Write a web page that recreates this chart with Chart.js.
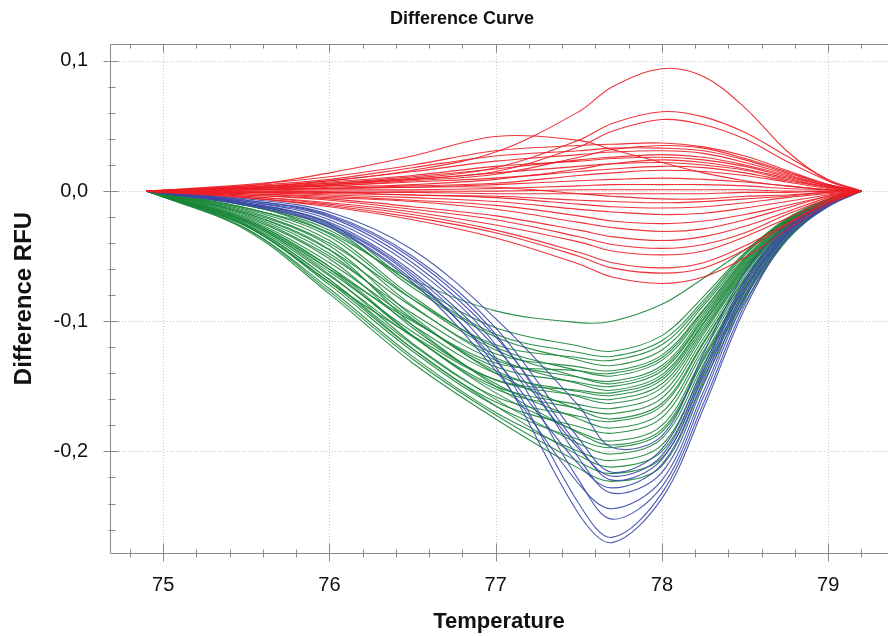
<!DOCTYPE html>
<html>
<head>
<meta charset="utf-8">
<script src="https://cdn.jsdelivr.net/npm/chart.js@4/dist/chart.umd.min.js"></script>
<style>
  html, body { margin: 0; padding: 0; background: #fff; }
  #wrap { width: 888px; height: 636px; position: relative; }
</style>
</head>
<body>
<div id="wrap"><canvas id="chart"></canvas></div>
<script>
// sample temperatures shared by every curve
const temps = [74.9, 75.5, 76, 76.5, 77, 77.5, 77.7, 78, 78.25, 78.5, 78.75, 79, 79.2];

const xTicks = [75, 76, 77, 78, 79];
const yTicks = [-0.2, -0.1, 0, 0.1];

// red curves
const redCurves = [
    [0, 0.003, 0.008, 0.016, 0.030, 0.061, 0.080, 0.094, 0.088, 0.064, 0.031, 0.008, 0],
    [0, 0.004, 0.014, 0.027, 0.042, 0.039, 0.032, 0.022, 0.014, 0.008, 0.004, 0.001, 0],
    [0, 0.002, 0.006, 0.010, 0.018, 0.039, 0.052, 0.061, 0.057, 0.045, 0.027, 0.009, 0],
    [0, 0.002, 0.005, 0.009, 0.015, 0.034, 0.046, 0.055, 0.051, 0.040, 0.023, 0.008, 0],
    [0, 0.005, 0.011, 0.020, 0.031, 0.035, 0.036, 0.037, 0.034, 0.027, 0.016, 0.005, 0],
    [0, 0.004, 0.009, 0.018, 0.027, 0.031, 0.033, 0.033, 0.031, 0.024, 0.014, 0.005, 0],
    [0, 0.003, 0.008, 0.015, 0.023, 0.028, 0.030, 0.031, 0.029, 0.022, 0.013, 0.004, 0],
    [0, 0.003, 0.007, 0.012, 0.019, 0.023, 0.025, 0.026, 0.024, 0.019, 0.011, 0.004, 0],
    [0, 0.003, 0.006, 0.011, 0.017, 0.024, 0.026, 0.028, 0.026, 0.020, 0.012, 0.004, 0],
    [0, 0.002, 0.005, 0.009, 0.014, 0.019, 0.021, 0.022, 0.020, 0.016, 0.009, 0.003, 0],
    [0, 0.002, 0.004, 0.007, 0.010, 0.015, 0.017, 0.019, 0.018, 0.014, 0.008, 0.003, 0],
    [0, 0.001, 0.003, 0.005, 0.009, 0.017, 0.021, 0.024, 0.022, 0.017, 0.010, 0.003, 0],
    [0, 0.001, 0.002, 0.003, 0.005, 0.008, 0.009, 0.010, 0.009, 0.007, 0.004, 0.001, 0],
    [0, 0.000, 0.001, 0.001, 0.002, 0.004, 0.005, 0.005, 0.005, 0.004, 0.002, 0.001, 0],
    [0, -0.001, 0.000, 0.000, 0.000, 0.001, 0.001, 0.001, 0.001, 0.001, 0.000, 0.000, 0],
    [0, 0.000, -0.001, -0.001, -0.002, -0.002, -0.002, -0.002, -0.002, -0.001, -0.001, 0.000, 0],
    [0, 0.001, 0.002, 0.003, 0.003, -0.002, -0.004, -0.006, -0.006, -0.004, -0.003, -0.001, 0],
    [0, -0.001, -0.002, -0.003, -0.005, -0.010, -0.012, -0.013, -0.012, -0.009, -0.005, -0.002, 0],
    [0, -0.001, -0.003, -0.005, -0.008, -0.014, -0.016, -0.018, -0.017, -0.013, -0.008, -0.003, 0],
    [0, -0.002, -0.004, -0.007, -0.011, -0.019, -0.023, -0.025, -0.023, -0.018, -0.011, -0.004, 0],
    [0, -0.002, -0.005, -0.008, -0.014, -0.024, -0.028, -0.031, -0.029, -0.022, -0.013, -0.004, 0],
    [0, -0.003, -0.006, -0.012, -0.019, -0.030, -0.035, -0.038, -0.035, -0.027, -0.016, -0.005, 0],
    [0, -0.003, -0.007, -0.014, -0.022, -0.035, -0.041, -0.044, -0.041, -0.032, -0.018, -0.006, 0],
    [0, -0.004, -0.009, -0.016, -0.026, -0.039, -0.046, -0.049, -0.046, -0.035, -0.021, -0.007, 0],
    [0, -0.004, -0.010, -0.018, -0.030, -0.047, -0.055, -0.059, -0.055, -0.042, -0.025, -0.008, 0],
    [0, -0.005, -0.011, -0.020, -0.032, -0.050, -0.059, -0.063, -0.059, -0.045, -0.026, -0.009, 0],
    [0, -0.005, -0.012, -0.022, -0.036, -0.056, -0.066, -0.071, -0.066, -0.051, -0.030, -0.010, 0],
    [0, 0.002, 0.004, 0.008, 0.013, 0.026, 0.032, 0.035, 0.033, 0.025, 0.015, 0.005, 0],
    [0, 0.001, 0.002, 0.004, 0.006, 0.012, 0.014, 0.016, 0.015, 0.012, 0.007, 0.002, 0],
    [0, -0.001, -0.001, -0.003, -0.004, -0.007, -0.008, -0.009, -0.008, -0.006, -0.004, -0.001, 0]
];

// blue curves
const blueCurves = [
    [0, -0.006, -0.016, -0.045, -0.098, -0.165, -0.197, -0.188, -0.125, -0.062, -0.026, -0.008, 0],
    [0, -0.007, -0.018, -0.050, -0.105, -0.190, -0.216, -0.198, -0.135, -0.068, -0.028, -0.009, 0],
    [0, -0.009, -0.024, -0.062, -0.120, -0.198, -0.219, -0.203, -0.138, -0.070, -0.029, -0.009, 0],
    [0, -0.008, -0.020, -0.055, -0.112, -0.196, -0.222, -0.206, -0.141, -0.072, -0.030, -0.009, 0],
    [0, -0.010, -0.027, -0.068, -0.130, -0.210, -0.228, -0.210, -0.145, -0.075, -0.031, -0.010, 0],
    [0, -0.007, -0.019, -0.052, -0.110, -0.205, -0.232, -0.216, -0.149, -0.077, -0.032, -0.010, 0],
    [0, -0.011, -0.028, -0.070, -0.138, -0.225, -0.244, -0.222, -0.154, -0.080, -0.033, -0.010, 0],
    [0, -0.008, -0.022, -0.058, -0.118, -0.222, -0.252, -0.227, -0.158, -0.083, -0.034, -0.011, 0],
    [0, -0.009, -0.025, -0.064, -0.128, -0.240, -0.266, -0.232, -0.163, -0.087, -0.036, -0.011, 0],
    [0, -0.010, -0.026, -0.066, -0.135, -0.248, -0.270, -0.236, -0.167, -0.090, -0.037, -0.012, 0]
];

// green curves
const greenCurves = [
    [0, -0.010, -0.032, -0.068, -0.092, -0.101, -0.100, -0.087, -0.067, -0.045, -0.024, -0.008, 0],
    [0, -0.011, -0.030, -0.071, -0.105, -0.119, -0.123, -0.111, -0.081, -0.047, -0.021, -0.006, 0],
    [0, -0.010, -0.025, -0.072, -0.110, -0.124, -0.127, -0.115, -0.084, -0.048, -0.022, -0.006, 0],
    [0, -0.015, -0.040, -0.083, -0.118, -0.128, -0.130, -0.118, -0.086, -0.049, -0.022, -0.007, 0],
    [0, -0.011, -0.028, -0.074, -0.112, -0.130, -0.134, -0.122, -0.088, -0.051, -0.023, -0.007, 0],
    [0, -0.017, -0.045, -0.089, -0.125, -0.135, -0.138, -0.126, -0.091, -0.052, -0.023, -0.007, 0],
    [0, -0.013, -0.033, -0.081, -0.120, -0.138, -0.142, -0.130, -0.094, -0.054, -0.024, -0.007, 0],
    [0, -0.019, -0.050, -0.094, -0.130, -0.143, -0.146, -0.134, -0.096, -0.055, -0.025, -0.007, 0],
    [0, -0.021, -0.055, -0.099, -0.135, -0.147, -0.150, -0.138, -0.099, -0.057, -0.026, -0.008, 0],
    [0, -0.014, -0.038, -0.088, -0.128, -0.148, -0.153, -0.141, -0.101, -0.058, -0.026, -0.008, 0],
    [0, -0.022, -0.058, -0.103, -0.140, -0.154, -0.157, -0.145, -0.104, -0.060, -0.027, -0.008, 0],
    [0, -0.024, -0.062, -0.108, -0.145, -0.157, -0.160, -0.148, -0.106, -0.061, -0.027, -0.008, 0],
    [0, -0.018, -0.048, -0.098, -0.138, -0.158, -0.163, -0.151, -0.108, -0.062, -0.028, -0.008, 0],
    [0, -0.025, -0.065, -0.112, -0.150, -0.164, -0.167, -0.155, -0.110, -0.063, -0.028, -0.008, 0],
    [0, -0.023, -0.060, -0.111, -0.152, -0.167, -0.171, -0.159, -0.113, -0.065, -0.029, -0.009, 0],
    [0, -0.026, -0.068, -0.118, -0.158, -0.173, -0.177, -0.165, -0.117, -0.067, -0.030, -0.009, 0],
    [0, -0.020, -0.052, -0.105, -0.148, -0.175, -0.182, -0.170, -0.120, -0.069, -0.031, -0.009, 0],
    [0, -0.027, -0.070, -0.121, -0.162, -0.181, -0.186, -0.174, -0.123, -0.071, -0.032, -0.009, 0],
    [0, -0.022, -0.058, -0.111, -0.155, -0.185, -0.192, -0.180, -0.127, -0.073, -0.033, -0.010, 0],
    [0, -0.027, -0.072, -0.123, -0.165, -0.191, -0.197, -0.185, -0.130, -0.075, -0.033, -0.010, 0],
    [0, -0.024, -0.064, -0.117, -0.160, -0.194, -0.202, -0.190, -0.133, -0.077, -0.034, -0.010, 0],
    [0, -0.029, -0.075, -0.127, -0.170, -0.200, -0.207, -0.195, -0.137, -0.079, -0.035, -0.010, 0],
    [0, -0.026, -0.068, -0.121, -0.165, -0.203, -0.212, -0.200, -0.140, -0.081, -0.036, -0.011, 0],
    [0, -0.029, -0.077, -0.129, -0.172, -0.208, -0.217, -0.205, -0.143, -0.082, -0.037, -0.011, 0],
    [0, -0.030, -0.079, -0.132, -0.175, -0.213, -0.223, -0.211, -0.147, -0.085, -0.038, -0.011, 0],
    [0, -0.023, -0.060, -0.100, -0.132, -0.138, -0.140, -0.128, -0.092, -0.053, -0.024, -0.007, 0],
    [0, -0.027, -0.070, -0.111, -0.145, -0.153, -0.155, -0.143, -0.102, -0.059, -0.026, -0.008, 0],
    [0, -0.016, -0.042, -0.096, -0.140, -0.168, -0.175, -0.163, -0.116, -0.067, -0.030, -0.009, 0],
    [0, -0.017, -0.045, -0.103, -0.150, -0.186, -0.195, -0.183, -0.129, -0.074, -0.033, -0.010, 0],
    [0, -0.013, -0.035, -0.083, -0.122, -0.143, -0.148, -0.136, -0.098, -0.056, -0.025, -0.007, 0]
];

const RED = 'rgba(236, 30, 38, 0.9)';
const BLUE = 'rgba(58, 72, 168, 0.9)';
const GREEN = 'rgba(24, 134, 56, 0.9)';

function makeSets(curves, color) {
    return curves.map(vals => ({
        data: vals.map((v, i) => ({ x: temps[i], y: v })),
        borderColor: color,
        borderWidth: 1.1,
        pointRadius: 0,
        fill: false,
        tension: 0.35
    }));
}

function fmt(v) {
    return v.toFixed(1).replace('.', ',');
}

// grid, frame, tick marks and title
const framePlugin = {
    id: 'frame',
    beforeDatasetsDraw(chart) {
        const { ctx, chartArea: a, scales: { x, y } } = chart;
        ctx.save();
        ctx.strokeStyle = '#c8c8c8';
        ctx.lineWidth = 1;
        ctx.setLineDash([1, 2]);
        ctx.beginPath();
        xTicks.forEach(v => {
            const px = Math.round(x.getPixelForValue(v)) + 0.5;
            ctx.moveTo(px, a.top);
            ctx.lineTo(px, a.bottom);
        });
        yTicks.forEach(v => {
            const py = Math.round(y.getPixelForValue(v)) + 0.5;
            ctx.moveTo(a.left, py);
            ctx.lineTo(a.right, py);
        });
        ctx.stroke();
        ctx.restore();
    },
    afterDraw(chart) {
        const { ctx, chartArea: a, scales: { x, y } } = chart;
        ctx.save();
        ctx.strokeStyle = '#8a8a8a';
        ctx.lineWidth = 1;
        const L = Math.round(a.left) + 0.5, B = Math.round(a.bottom) + 0.5, T = Math.round(a.top) + 0.5;
        ctx.beginPath();
        ctx.moveTo(L, T); ctx.lineTo(a.right, T);
        ctx.moveTo(L, T); ctx.lineTo(L, B);
        ctx.moveTo(L, B); ctx.lineTo(a.right, B);
        // x tick marks, every 0.2
        for (let k = 0; k <= 23; k++) {
            const v = 74.8 + k * 0.2;
            const major = Math.abs(v - Math.round(v)) < 1e-6;
            const px = Math.round(x.getPixelForValue(v)) + 0.5;
            if (px < a.left || px > a.right) continue;
            ctx.moveTo(px, B - (major ? 10 : 4));
            ctx.lineTo(px, B + (major ? 8 : 4));
            ctx.moveTo(px, T);
            ctx.lineTo(px, T + (major ? 8 : 4));
        }
        // y tick marks, every 0.02
        for (let k = 0; k <= 19; k++) {
            const v = -0.26 + k * 0.02;
            const major = Math.abs(v * 10 - Math.round(v * 10)) < 1e-6;
            const py = Math.round(y.getPixelForValue(v)) + 0.5;
            if (py < a.top || py > a.bottom) continue;
            ctx.moveTo(L - (major ? 7 : 2), py);
            ctx.lineTo(L + (major ? 8 : 5), py);
        }
        ctx.stroke();
        ctx.fillStyle = '#111';
        ctx.font = 'bold 18px "Liberation Sans", Arial, sans-serif';
        ctx.textAlign = 'center';
        ctx.textBaseline = 'middle';
        ctx.fillText('Difference Curve', 462, 19);
        ctx.restore();
    }
};

new Chart(document.getElementById('chart'), {
    type: 'line',
    data: {
        datasets: [
            ...makeSets(redCurves, RED),
            ...makeSets(blueCurves, BLUE),
            ...makeSets(greenCurves, GREEN)
        ]
    },
    options: {
        responsive: true,
        maintainAspectRatio: false,
        animation: false,
        layout: { padding: { top: 44, right: 0, left: 0, bottom: 0 } },
        plugins: {
            legend: { display: false },
            tooltip: { enabled: false }
        },
        scales: {
            x: {
                type: 'linear',
                min: 74.68,
                max: 79.36,
                afterFit: s => { s.height = 83; },
                afterBuildTicks: s => { s.ticks = xTicks.map(v => ({ value: v })); },
                grid: { display: false, drawTicks: false },
                border: { display: false },
                ticks: {
                    padding: 20,
                    color: '#111',
                    font: { family: '"Liberation Sans", Arial, sans-serif', size: 20 },
                    maxRotation: 0,
                    callback: v => String(v)
                },
                title: {
                    display: true,
                    text: 'Temperature',
                    color: '#111',
                    font: { family: '"Liberation Sans", Arial, sans-serif', size: 22, weight: 'bold' },
                    padding: { top: 0, bottom: 1 }
                }
            },
            y: {
                type: 'linear',
                min: -0.278,
                max: 0.113,
                afterFit: s => { s.width = 110; },
                afterBuildTicks: s => { s.ticks = yTicks.map(v => ({ value: v })); },
                grid: { display: false, drawTicks: false },
                border: { display: false },
                ticks: {
                    padding: 22,
                    color: '#111',
                    font: { family: '"Liberation Sans", Arial, sans-serif', size: 20 },
                    callback: v => fmt(v)
                },
                title: {
                    display: true,
                    text: 'Difference RFU',
                    color: '#111',
                    font: { family: '"Liberation Sans", Arial, sans-serif', size: 24, weight: 'bold' },
                    padding: { top: 10, bottom: 8 }
                }
            }
        }
    },
    plugins: [framePlugin]
});
</script>
</body>
</html>
